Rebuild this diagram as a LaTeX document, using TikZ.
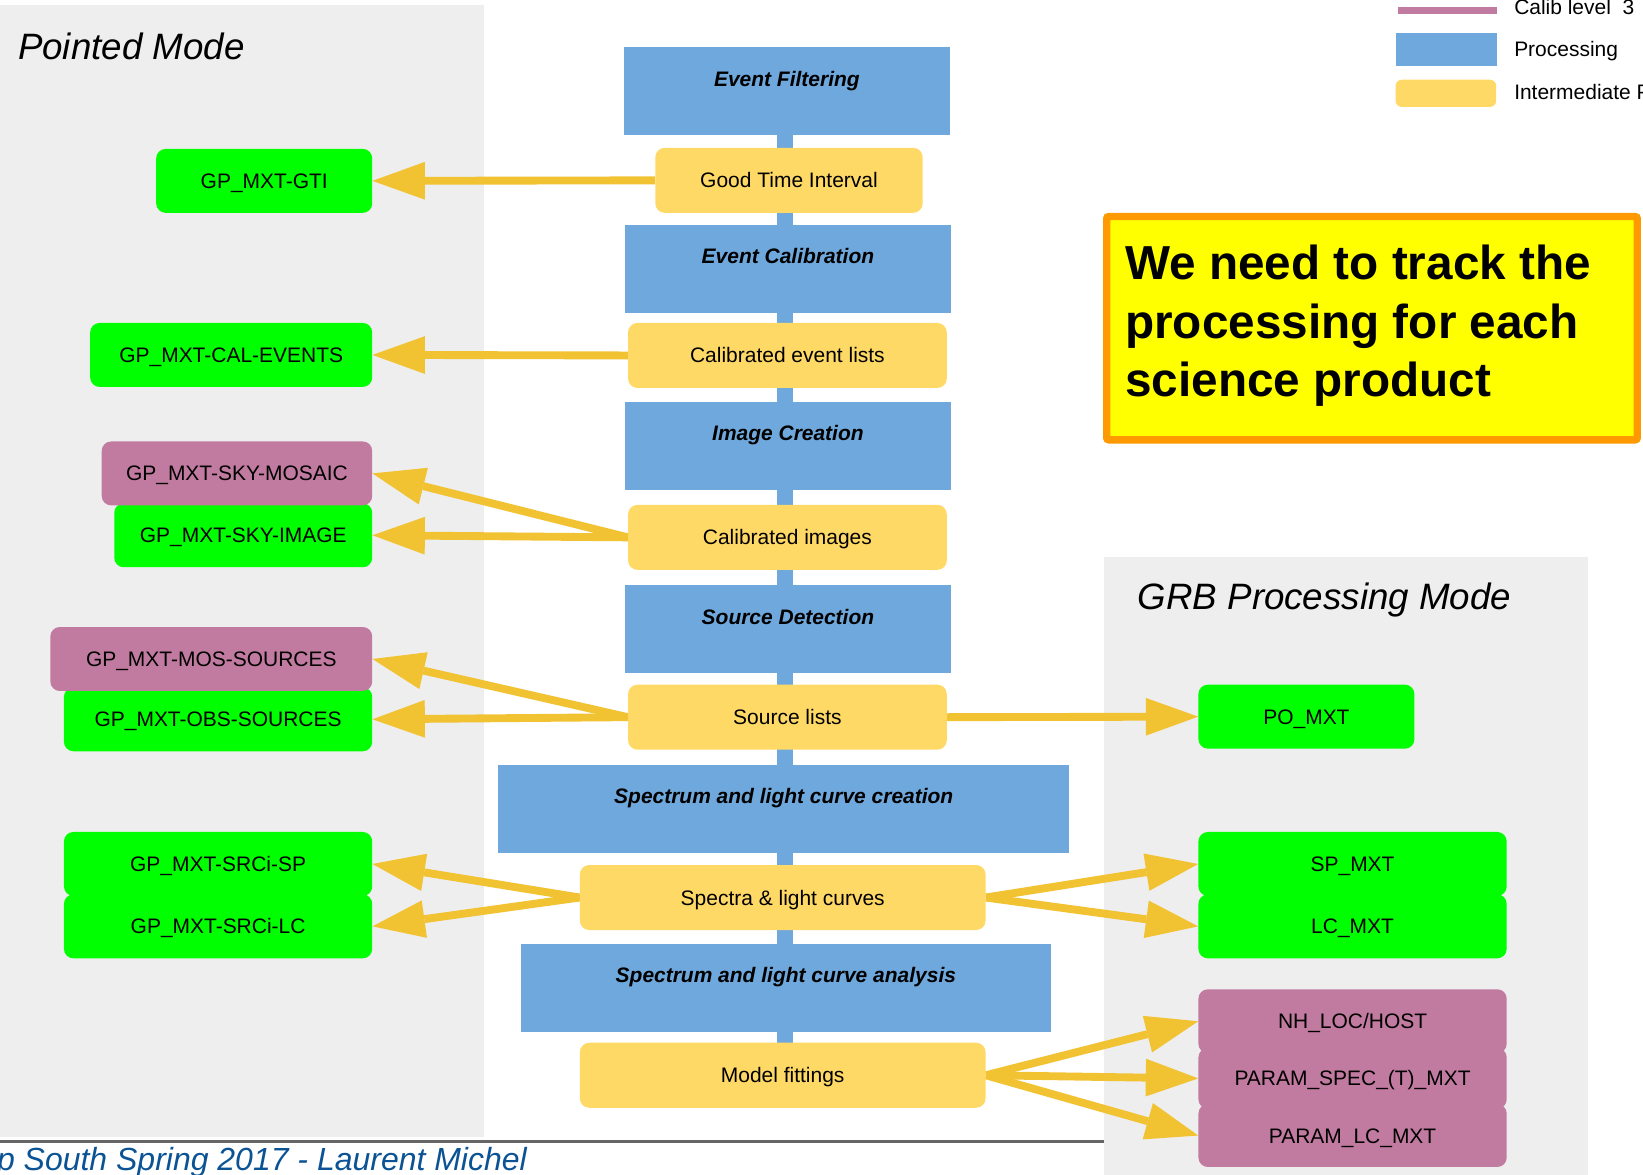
\documentclass[tikz,border=0pt]{standalone}
\usepackage{fontspec}
\setmainfont{Liberation Sans}
\usetikzlibrary{arrows.meta}
\definecolor{procblue}{HTML}{6FA8DC}
\definecolor{interyel}{HTML}{FFD966}
\definecolor{prodgreen}{HTML}{00FF00}
\definecolor{calpink}{HTML}{C27BA0}
\definecolor{arrowyel}{HTML}{F1C232}
\definecolor{panelgray}{HTML}{EEEEEE}
\definecolor{calloutyel}{HTML}{FFFF00}
\definecolor{calloutorange}{HTML}{FF9900}
\definecolor{footblue}{HTML}{0B5394}
\definecolor{footline}{HTML}{666666}
\pgfdeclarelayer{bglayer}
\pgfdeclarelayer{arrlayer}
\pgfsetlayers{bglayer,arrlayer,main}
\tikzset{
  boxfont/.style={font=\fontsize{20}{24}\selectfont},
  proc/.style={fill=procblue, draw=none, inner xsep=0pt, inner ysep=0pt,
    text height=37pt, text depth=47pt, anchor=north,
    font=\fontsize{20}{24}\selectfont\bfseries\itshape},
  prodbox/.style={boxfont, rounded corners=9pt, minimum height=61pt, inner sep=0pt,
    text height=18pt, text depth=3.6pt},
  inter/.style={prodbox, fill=interyel, minimum height=62pt},
  prod/.style={prodbox, fill=prodgreen},
  calib/.style={prodbox, fill=calpink},
  flow/.style={draw=arrowyel, line width=7.5pt,
    -{Triangle[length=50pt,width=36pt,line width=0pt]}},
  modetitle/.style={font=\fontsize{35}{42}\selectfont\itshape, anchor=base west, inner sep=0pt},
  legendtext/.style={boxfont, anchor=base west, inner sep=0pt},
}
\begin{document}
\begin{tikzpicture}[x=1pt,y=-1pt]
\useasboundingbox (0,0) rectangle (1567,1120);
\begin{pgfonlayer}{bglayer}
  % panels
  \fill[panelgray] (0,5) rectangle (462,1084);
  \draw[footline, line width=3pt] (0,1089) -- (1053,1089);
  \fill[panelgray] (1053,531) rectangle (1515,1125);
  % vertical processing stripe
  \draw[procblue, line width=15pt] (749,120) -- (749,1000);
\end{pgfonlayer}

% titles
\node[modetitle] (ptitle) at (17,57) {Pointed Mode};
\node[modetitle] (gtitle) at (1085,581) {GRB Processing Mode};

% legend
\node[fill=calpink, minimum width=95pt, minimum height=7pt, inner sep=0pt, outer sep=0pt, anchor=north west] (lgpink) at (1333,6.5) {};
\node[legendtext] (lgpinkt) at (1444,14) {Calib level\ \ 3};
\node[fill=procblue, minimum width=97pt, minimum height=32pt, inner sep=0pt, outer sep=0pt, anchor=north west] (lgblue) at (1331,31) {};
\node[legendtext] (lgbluet) at (1444,54) {Processing};
\node[fill=interyel, rounded corners=6pt, minimum width=96pt, minimum height=26pt, inner sep=0pt, outer sep=0pt, anchor=north west] (lgyel) at (1331,76) {};
\node[legendtext] (lgyelt) at (1444,95) {Intermediate Products};

% processing boxes
\node[proc, minimum width=311pt] (ef) at (750.5,45) {Event Filtering};
\node[proc, minimum width=311pt] (ec) at (751.5,214) {Event Calibration};
\node[proc, minimum width=311pt] (ic) at (751.5,383) {Image Creation};
\node[proc, minimum width=311pt] (sd) at (751.5,558) {Source Detection};
\node[proc, minimum width=545pt] (slcc) at (747.5,729) {Spectrum and light curve creation};
\node[proc, minimum width=505pt] (slca) at (749.5,900) {Spectrum and light curve analysis};

% intermediate products
\node[inter, minimum width=255pt] (gtiY) at (752.5,172) {Good Time Interval};
\node[inter, minimum width=304pt] (calY) at (751,339) {Calibrated event lists};
\node[inter, minimum width=304pt] (imgY) at (751,512.5) {Calibrated images};
\node[inter, minimum width=304pt] (srcY) at (751,684) {Source lists};
\node[inter, minimum width=387pt] (specY) at (746.5,856) {Spectra \& light curves};
\node[inter, minimum width=387pt] (modY) at (746.5,1025.5) {Model fittings};

% pointed mode products
\node[prod, minimum width=206pt] (gtiP) at (252,172.5) {GP\_MXT-GTI};
\node[prod, minimum width=269pt] (calP) at (220.5,338.5) {GP\_MXT-CAL-EVENTS};
\node[prod, minimum width=246pt] (skyimg) at (232,510.5) {GP\_MXT-SKY-IMAGE};
\node[calib, minimum width=258pt] (mosaic) at (226,451.5) {GP\_MXT-SKY-MOSAIC};
\node[prod, minimum width=294pt] (obssrc) at (208,686) {GP\_MXT-OBS-SOURCES};
\node[calib, minimum width=307pt] (mossrc) at (201.5,628.5) {GP\_MXT-MOS-SOURCES};
\node[prod, minimum width=294pt] (srcsp) at (208,824) {GP\_MXT-SRCi-SP};
\node[prod, minimum width=294pt] (srclc) at (208,883.5) {GP\_MXT-SRCi-LC};

% GRB mode products
\node[prod, minimum width=206pt] (po) at (1246,683.5) {PO\_MXT};
\node[prod, minimum width=294pt] (spm) at (1290,824) {SP\_MXT};
\node[prod, minimum width=294pt] (lcm) at (1290,883.5) {LC\_MXT};
\node[calib, minimum width=294pt] (nh) at (1290,974) {NH\_LOC/HOST};
\node[calib, minimum width=294pt, minimum height=58pt] (pspec) at (1290,1028.5) {PARAM\_SPEC\_(T)\_MXT};
\node[calib, minimum width=294pt, minimum height=60pt] (plc) at (1290,1083) {PARAM\_LC\_MXT};

% callout
\node[draw=calloutorange, fill=calloutyel, line width=7pt, rounded corners=2pt, outer sep=0pt,
      minimum width=506pt, minimum height=213pt, anchor=north west] (callout) at (1055.5,206.5) {};
\node[font=\fontsize{45.5}{55.5}\selectfont\bfseries, align=left, anchor=base west, inner sep=0pt] (callt) at (1073,378)
  {We need to track the\\processing for each\\science product};

% footer
\node[font=\fontsize{30.5}{36}\selectfont\itshape, text=footblue, anchor=base west, inner sep=0pt] (foot) at (-3,1116)
  {p South Spring 2017 - Laurent Michel};

% flows
\begin{pgfonlayer}{arrlayer}
  \draw[flow] (gtiY.west) -- (gtiP.east);
  \draw[flow] (calY.west) -- (calP.east);
  \draw[flow] (imgY.west) -- (mosaic.east);
  \draw[flow] (imgY.west) -- (skyimg.east);
  \draw[flow] (srcY.west) -- (mossrc.east);
  \draw[flow] (srcY.west) -- (obssrc.east);
  \draw[flow] (srcY.east) -- (po.west);
  \draw[flow] (specY.west) -- (srcsp.east);
  \draw[flow] (specY.west) -- (srclc.east);
  \draw[flow] (specY.east) -- (spm.west);
  \draw[flow] (specY.east) -- (lcm.west);
  \draw[flow] (modY.east) -- (nh.west);
  \draw[flow] (modY.east) -- (pspec.west);
  \draw[flow] (modY.east) -- (plc.west);
\end{pgfonlayer}
\end{tikzpicture}
\end{document}
